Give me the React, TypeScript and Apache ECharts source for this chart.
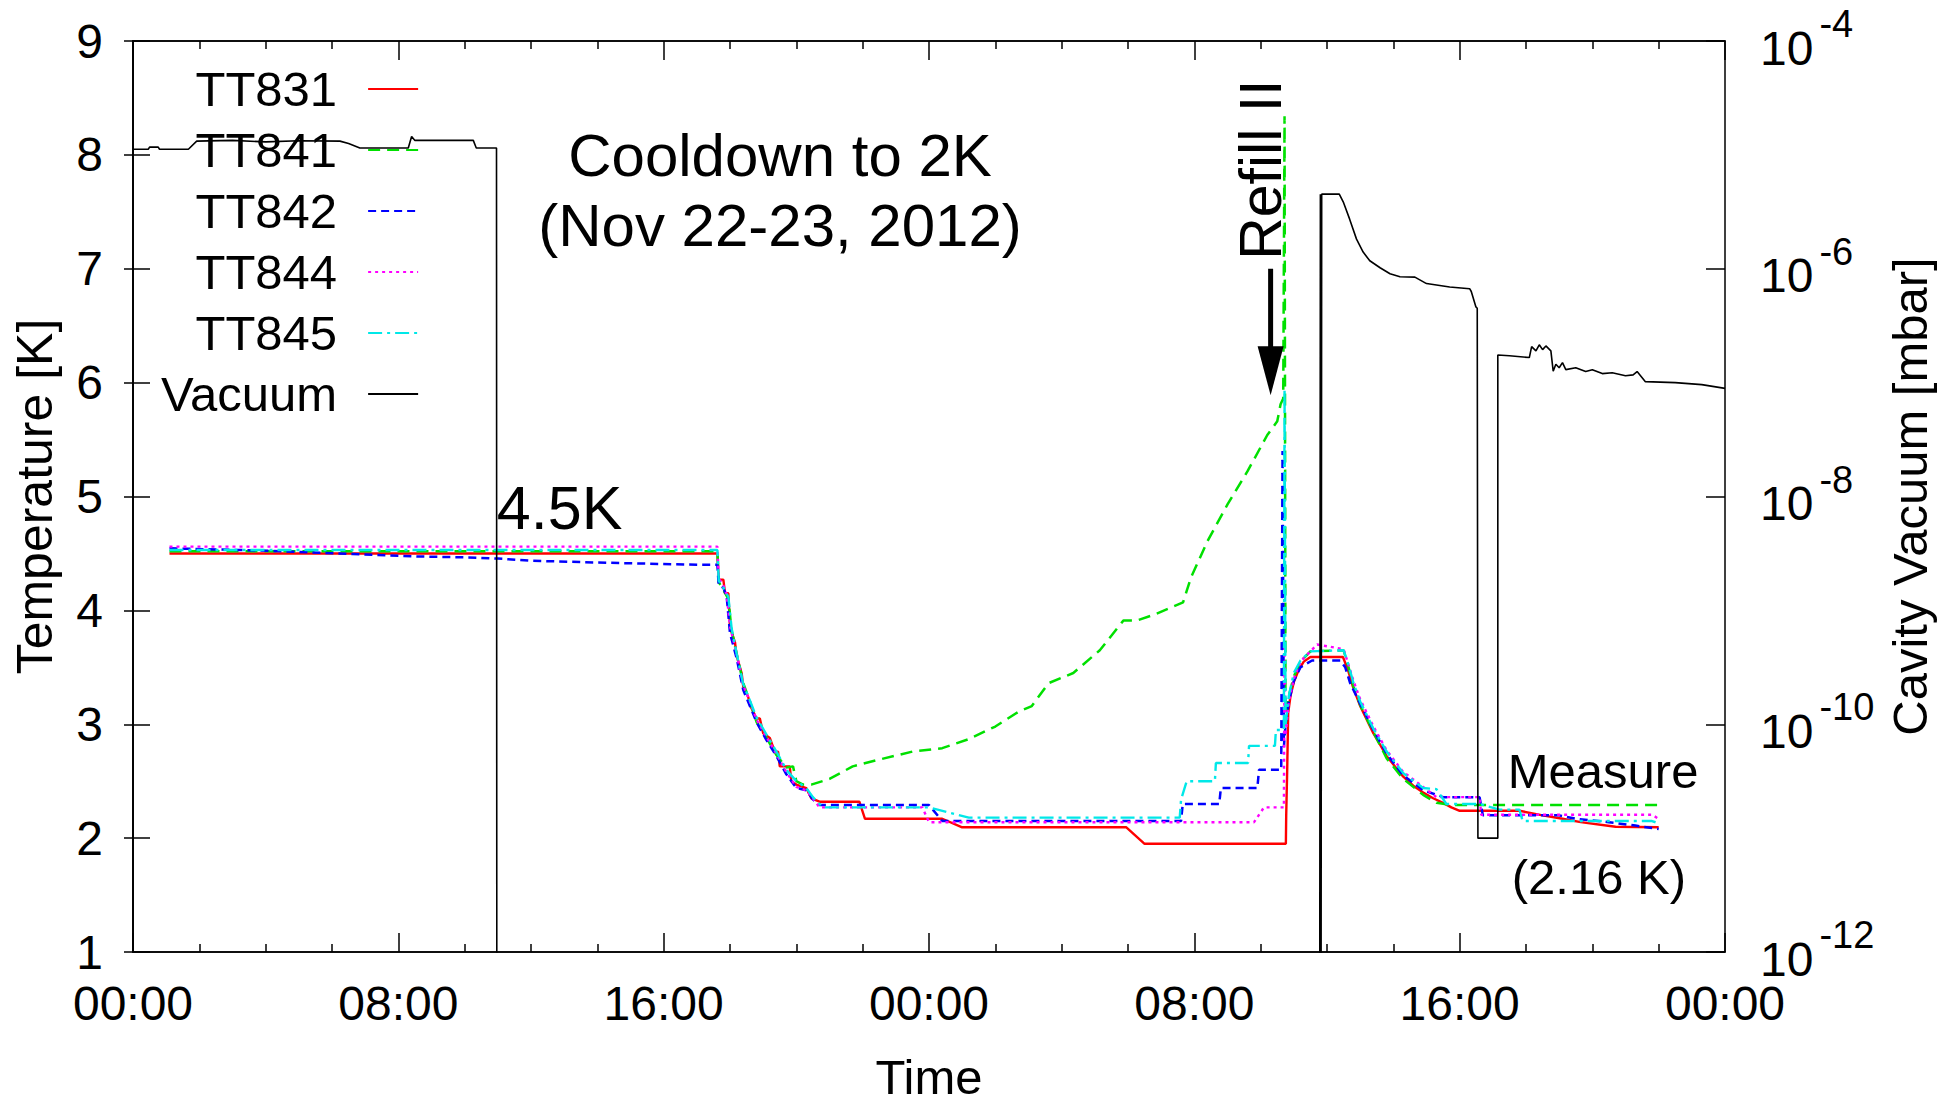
import React, { useEffect, useRef } from 'react';
import * as echarts from 'echarts';

// ---- data (time in hours from Nov 22 00:00; temperatures in K; vacuum in mbar) ----
const xLabelHours = [0, 8, 16, 24, 32, 40, 48];

const tt831: [number, number][] = [
  [1.1, 4.5], [17.62, 4.5], [17.66, 4.27], [17.8, 4.27], [17.85, 4.15], [17.95, 4.15], [18.0, 3.85],
  [18.15, 3.72], [18.2, 3.6], [18.35, 3.45], [18.4, 3.33], [18.55, 3.24], [18.6, 3.17], [18.8, 3.05],
  [18.9, 3.05], [19.0, 2.92], [19.2, 2.88], [19.35, 2.76], [19.45, 2.76], [19.5, 2.63], [19.8, 2.63],
  [19.85, 2.5], [20.0, 2.47], [20.3, 2.44], [20.45, 2.35], [20.7, 2.32], [21.9, 2.32], [22.07, 2.17],
  [24.4, 2.17], [25.0, 2.095], [29.95, 2.095], [30.5, 1.95], [34.76, 1.95], [34.77, 2.2], [34.8, 2.6],
  [34.83, 3.1], [34.9, 3.25], [35.0, 3.37], [35.15, 3.48], [35.3, 3.55], [35.5, 3.59], [36.48, 3.59],
  [36.63, 3.48], [36.78, 3.33], [37.0, 3.16], [37.2, 3.04], [37.4, 2.92], [37.6, 2.82], [37.8, 2.72],
  [38.05, 2.63], [38.3, 2.54], [38.6, 2.46], [38.9, 2.4], [39.2, 2.35], [39.5, 2.31], [39.75, 2.27],
  [40.0, 2.24], [41.8, 2.24], [42.5, 2.2], [43.1, 2.17], [43.65, 2.14], [44.7, 2.1], [46.0, 2.095],
];

const tt841: [number, number][] = [
  [1.1, 4.52], [17.62, 4.52], [17.66, 4.25], [17.8, 4.18], [17.95, 4.1], [18.05, 3.82], [18.2, 3.62],
  [18.4, 3.36], [18.6, 3.2], [18.8, 3.02], [19.1, 2.88], [19.4, 2.73], [19.7, 2.62], [19.9, 2.63],
  [20.0, 2.5], [20.2, 2.47], [20.45, 2.47], [21.0, 2.52], [21.7, 2.63], [22.5, 2.69], [23.5, 2.76],
  [24.4, 2.79], [25.2, 2.87], [26.0, 2.98], [26.7, 3.11], [27.1, 3.16], [27.6, 3.36], [28.35, 3.45],
  [29.15, 3.65], [29.86, 3.91], [30.26, 3.91], [30.86, 3.97], [31.66, 4.07], [31.9, 4.29], [32.4, 4.61],
  [33.0, 4.93], [33.6, 5.22], [34.2, 5.54], [34.5, 5.66], [34.6, 5.81], [34.68, 5.86], [34.72, 8.34],
  [34.75, 3.0], [34.85, 3.25], [35.0, 3.42], [35.2, 3.55], [35.5, 3.64], [36.5, 3.65], [36.65, 3.5],
  [36.8, 3.33], [37.0, 3.17], [37.4, 2.93], [37.8, 2.7], [38.3, 2.52], [38.9, 2.38], [39.3, 2.31],
  [39.8, 2.29], [46.0, 2.29],
];

const tt842: [number, number][] = [
  [1.1, 4.545], [4.07, 4.524], [6.62, 4.495], [8.64, 4.473], [10.12, 4.465], [11.0, 4.455], [12.0, 4.436],
  [14.3, 4.418], [17.1, 4.4], [17.62, 4.4], [17.66, 4.22], [17.8, 4.2], [17.9, 4.12], [18.0, 3.8],
  [18.2, 3.58], [18.4, 3.3], [18.6, 3.16], [18.8, 3.02], [19.1, 2.86], [19.4, 2.72], [19.7, 2.56],
  [20.0, 2.44], [20.3, 2.42], [20.5, 2.34], [20.7, 2.29], [24.0, 2.29], [24.4, 2.15], [31.6, 2.15],
  [31.65, 2.3], [32.75, 2.3], [32.8, 2.44], [33.9, 2.44], [33.95, 2.6], [34.62, 2.6], [34.66, 5.4],
  [34.7, 2.8], [34.75, 3.0], [34.85, 3.2], [35.0, 3.38], [35.2, 3.5], [35.55, 3.56], [36.4, 3.56],
  [36.55, 3.5], [36.7, 3.36], [37.0, 3.18], [37.4, 2.95], [37.8, 2.74], [38.3, 2.55], [38.9, 2.42],
  [39.5, 2.36], [40.6, 2.36], [40.7, 2.2], [43.0, 2.2], [43.5, 2.17], [44.5, 2.14], [45.3, 2.11],
  [46.0, 2.08],
];

const tt844: [number, number][] = [
  [1.1, 4.56], [17.62, 4.56], [17.66, 4.28], [17.8, 4.22], [17.9, 4.14], [18.0, 3.86], [18.2, 3.62],
  [18.4, 3.34], [18.6, 3.2], [18.8, 3.04], [19.1, 2.89], [19.4, 2.74], [19.7, 2.58], [20.0, 2.45],
  [20.3, 2.42], [20.5, 2.35], [20.7, 2.27], [23.8, 2.27], [24.0, 2.14], [33.8, 2.14], [34.1, 2.27],
  [34.7, 2.27], [34.72, 3.7], [34.75, 2.9], [34.85, 3.2], [35.0, 3.4], [35.2, 3.55], [35.5, 3.64],
  [35.7, 3.7], [36.5, 3.66], [36.65, 3.52], [36.8, 3.38], [37.0, 3.22], [37.4, 2.98], [37.8, 2.77],
  [38.3, 2.58], [38.9, 2.45], [39.3, 2.36], [40.6, 2.36], [40.65, 2.205], [45.8, 2.205], [46.0, 2.17],
];

const tt845: [number, number][] = [
  [1.1, 4.53], [17.62, 4.53], [17.66, 4.26], [17.8, 4.2], [17.95, 4.12], [18.05, 3.84], [18.2, 3.62],
  [18.4, 3.35], [18.6, 3.21], [18.8, 3.06], [19.1, 2.91], [19.4, 2.76], [19.7, 2.6], [20.0, 2.5],
  [20.3, 2.44], [20.5, 2.36], [20.8, 2.27], [24.0, 2.27], [25.2, 2.18], [31.56, 2.18], [31.6, 2.34],
  [31.77, 2.5], [32.62, 2.5], [32.65, 2.66], [33.62, 2.66], [33.65, 2.81], [34.43, 2.81], [34.46, 2.95],
  [34.7, 2.95], [34.72, 5.95], [34.75, 3.0], [34.85, 3.25], [35.0, 3.45], [35.2, 3.56], [35.5, 3.64],
  [36.5, 3.65], [36.65, 3.52], [36.8, 3.36], [37.0, 3.2], [37.4, 2.96], [37.8, 2.76], [38.3, 2.57],
  [38.9, 2.44], [39.3, 2.43], [39.6, 2.3], [40.6, 2.3], [41.2, 2.25], [41.8, 2.25], [41.9, 2.15],
  [45.8, 2.15], [46.0, 2.13],
];

const vacuum: [number, number][] = [
  [0, 1.12e-5], [0.46, 1.12e-5], [0.5, 1.17e-5], [0.76, 1.17e-5], [0.8, 1.12e-5], [1.67, 1.12e-5],
  [1.92, 1.32e-5], [3.0, 1.34e-5], [4.0, 1.3e-5], [5.0, 1.33e-5], [6.24, 1.32e-5], [6.5, 1.26e-5],
  [6.84, 1.15e-5], [8.3, 1.15e-5], [8.4, 1.45e-5], [8.5, 1.34e-5], [10.26, 1.34e-5], [10.35, 1.15e-5],
  [10.96, 1.15e-5], [10.97, 1e-13], [35.78, 1e-13], [35.8, 4.52e-6], [35.82, 1e-13], [35.84, 4.52e-6],
  [36.37, 4.52e-6], [36.5, 3.8e-6], [36.68, 2.74e-6], [36.89, 1.82e-6], [37.09, 1.4e-6], [37.29, 1.175e-6],
  [37.6, 1.02e-6], [37.9, 9.04e-7], [38.2, 8.51e-7], [38.65, 8.45e-7], [39.0, 7.41e-7], [39.7, 6.92e-7],
  [40.3, 6.68e-7], [40.35, 6.31e-7], [40.49, 4.62e-7], [40.53, 4.5e-7], [40.55, 1.0e-11], [41.15, 1.0e-11],
  [41.15, 1.75e-7], [41.5, 1.72e-7], [42.1, 1.66e-7], [42.17, 2.07e-7], [42.3, 1.9e-7], [42.4, 2.15e-7],
  [42.5, 1.95e-7], [42.6, 2.1e-7], [42.75, 1.9e-7], [42.82, 1.26e-7], [42.9, 1.45e-7], [43.0, 1.35e-7],
  [43.1, 1.5e-7], [43.2, 1.3e-7], [43.5, 1.35e-7], [43.8, 1.25e-7], [44.0, 1.3e-7], [44.3, 1.2e-7],
  [44.6, 1.22e-7], [45.0, 1.15e-7], [45.23, 1.17e-7], [45.35, 1.25e-7], [45.6, 1.02e-7], [46.5, 1.0e-7],
  [47.3, 9.6e-8], [48.0, 8.9e-8],
];

const FONT = 'Liberation Sans';

function hourLabel(v: number): string {
  const h = ((Math.round(v) % 24) + 24) % 24;
  return (h < 10 ? '0' : '') + h + ':00';
}

export default function App() {
  const ref = useRef<HTMLDivElement>(null);

  useEffect(() => {
    document.body.style.margin = '0';
    const chart = echarts.init(ref.current as HTMLDivElement, undefined, { renderer: 'svg' });

    const mk = (name: string, data: [number, number][], color: string, type: any, width: number, yAxisIndex = 0) => ({
      type: 'line',
      name,
      data,
      yAxisIndex,
      symbol: 'none',
      showSymbol: false,
      silent: true,
      lineStyle: { color, width, type },
      itemStyle: { color },
    });

    const option: any = {
      animation: false,
      textStyle: { fontFamily: FONT, color: '#000' },
      title: {
        text: 'Cooldown to 2K\n(Nov 22-23, 2012)',
        left: 780,
        top: 120,
        textAlign: 'center',
        padding: 0,
        textStyle: { fontSize: 60, lineHeight: 70, fontWeight: 'normal', color: '#000', fontFamily: FONT },
      },
      legend: {
        data: ['TT831', 'TT841', 'TT842', 'TT844', 'TT845', 'Vacuum'],
        orient: 'vertical',
        left: 161,
        top: 64,
        align: 'right',
        itemWidth: 50,
        itemHeight: 14,
        itemGap: 11,
        padding: 0,
        selectedMode: false,
        itemStyle: { opacity: 0 },
        textStyle: { fontSize: 49, lineHeight: 50, padding: [0, 26, 0, 0], color: '#000', fontFamily: FONT },
      },
      grid: {
        left: 133, right: 221, top: 41, bottom: 149,
        show: true, borderColor: '#000', borderWidth: 1.5, backgroundColor: 'transparent',
      },
      xAxis: [
        {
          type: 'value', min: 0, max: 48, interval: 8, position: 'bottom',
          name: 'Time', nameLocation: 'middle', nameGap: 100,
          nameTextStyle: { fontSize: 49, color: '#000', fontFamily: FONT },
          axisLine: { show: true, lineStyle: { color: '#000', width: 1.5 } },
          axisTick: { show: true, inside: true, length: 19, lineStyle: { color: '#000', width: 1.5 } },
          minorTick: { show: true, splitNumber: 4, length: 8, lineStyle: { color: '#000', width: 1.5 } },
          splitLine: { show: false },
          axisLabel: { fontSize: 48, margin: 27, color: '#000', fontFamily: FONT, formatter: (v: number) => hourLabel(v) },
        },
        {
          type: 'value', min: 0, max: 48, interval: 8, position: 'top',
          axisLine: { show: true, lineStyle: { color: '#000', width: 1.5 } },
          axisTick: { show: true, inside: true, length: 19, lineStyle: { color: '#000', width: 1.5 } },
          minorTick: { show: true, splitNumber: 4, length: 8, lineStyle: { color: '#000', width: 1.5 } },
          splitLine: { show: false },
          axisLabel: { show: false },
        },
      ],
      yAxis: [
        {
          type: 'value', min: 1, max: 9, interval: 1, position: 'left',
          name: 'Temperature [K]', nameLocation: 'middle', nameGap: 73,
          nameTextStyle: { fontSize: 50, color: '#000', fontFamily: FONT },
          axisLine: { show: true, lineStyle: { color: '#000', width: 1.5 } },
          axisTick: { show: true, inside: true, length: 17, lineStyle: { color: '#000', width: 1.5 } },
          splitLine: { show: false },
          axisLabel: { fontSize: 48, margin: 30, color: '#000', fontFamily: FONT },
        },
        {
          type: 'log', logBase: 10, min: 1e-12, max: 1e-4, position: 'right',
          name: 'Cavity Vacuum [mbar]', nameLocation: 'middle', nameGap: 138,
          nameTextStyle: { fontSize: 49, color: '#000', fontFamily: FONT },
          axisLine: { show: true, lineStyle: { color: '#000', width: 1.5 } },
          axisTick: { show: true, inside: true, length: 9, lineStyle: { color: '#000', width: 1.5 } },
          splitLine: { show: false },
          axisLabel: {
            margin: 35,
            color: '#000',
            fontFamily: FONT,
            formatter: (v: number) => {
              const e = Math.round(Math.log10(v));
              if (e % 2 !== 0) return '';
              return '{b|10}{s|' + e + '}';
            },
            rich: {
              b: { fontSize: 48, lineHeight: 48, padding: [14, 0, 0, 0], fontFamily: FONT, color: '#000' },
              s: { fontSize: 38, lineHeight: 38, padding: [0, 0, 34, 6], fontFamily: FONT, color: '#000' },
            },
          },
        },
        {
          type: 'value', min: -12, max: -4, interval: 2, position: 'right',
          axisLine: { show: false },
          axisTick: { show: true, inside: true, length: 19, lineStyle: { color: '#000', width: 1.5 } },
          splitLine: { show: false },
          axisLabel: { show: false },
        },
      ],
      series: [
        mk('TT831', tt831, '#ff0000', 'solid', 2.4),
        mk('TT841', tt841, '#00e000', [12, 7], 2.5),
        mk('TT842', tt842, '#0000ff', [8, 5], 2.5),
        mk('TT844', tt844, '#ff00ff', [3, 4], 2.4),
        mk('TT845', tt845, '#00e8e8', [14, 5, 3, 5], 2.4),
        mk('Vacuum', vacuum, '#000000', 'solid', 1.6, 1),
      ],
    };

    chart.setOption(option);

    const px = (t: number, T: number): number[] =>
      chart.convertToPixel({ xAxisIndex: 0, yAxisIndex: 0 }, [t, T]) as number[];

    const p45 = px(10.97, 4.9);
    const pRefill = px(34.0, 7.87);
    const shaftTop = px(34.3, 7.0);
    const headTop = px(34.3, 6.32);
    const tip = px(34.3, 5.89);
    const pMeasure = px(41.45, 2.59);
    const p216 = px(41.57, 1.66);

    chart.setOption({
      graphic: [
        { type: 'text', x: p45[0], y: p45[1], z: 100,
          style: { text: '4.5K', fontSize: 61, fontFamily: FONT, fill: '#000', align: 'left', verticalAlign: 'middle' } },
        { type: 'text', x: pRefill[0], y: pRefill[1], rotation: Math.PI / 2, z: 100,
          style: { text: 'Refill II', fontSize: 59, fontFamily: FONT, fill: '#000', align: 'center', verticalAlign: 'middle' } },
        { type: 'line', z: 100,
          shape: { x1: shaftTop[0], y1: shaftTop[1], x2: headTop[0], y2: headTop[1] + 2 },
          style: { stroke: '#000', lineWidth: 5 } },
        { type: 'polygon', z: 100,
          shape: { points: [[headTop[0] - 13, headTop[1]], [headTop[0] + 13, headTop[1]], [tip[0], tip[1]]] },
          style: { fill: '#000' } },
        { type: 'text', x: pMeasure[0], y: pMeasure[1], z: 100,
          style: { text: 'Measure', fontSize: 49, fontFamily: FONT, fill: '#000', align: 'left', verticalAlign: 'middle' } },
        { type: 'text', x: p216[0], y: p216[1], z: 100,
          style: { text: '(2.16 K)', fontSize: 49, fontFamily: FONT, fill: '#000', align: 'left', verticalAlign: 'middle' } },
      ],
    });

    return () => {
      chart.dispose();
    };
  }, []);

  return <div ref={ref} style={{ width: 1946, height: 1106 }} />;
}
